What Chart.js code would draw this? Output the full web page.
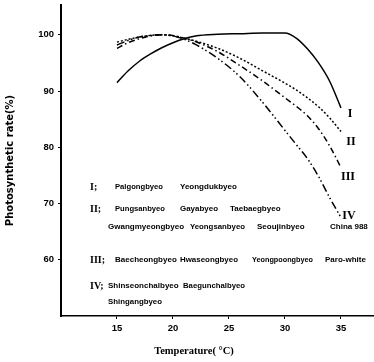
<!DOCTYPE html>
<html>
<head>
<meta charset="utf-8">
<script src="https://cdn.jsdelivr.net/npm/chart.js@4"></script>
<style>
  body { margin: 0; background: #fff; }
  canvas { display: block; }
</style>
</head>
<body>
<canvas id="chart" width="374" height="362"></canvas>
<script>
// temperature (°C) at which each curve was read
const temps = [15, 16, 17, 18, 19, 20, 21, 22, 24, 26, 28, 30, 31, 32, 33, 34, 35];
// photosynthetic rate (%) per variety group
const rateI   = [91.5, 93.6, 95.3, 96.6, 97.7, 98.6, 99.3, 99.8, 100.1, 100.2, 100.3, 100.3, 99.4, 97.5, 95.0, 91.7, 87.0];
const rateII  = [98.7, 99.2, 99.6, 99.9, 100.0, 99.8, 99.4, 98.9, 97.6, 95.8, 93.6, 91.4, 90.2, 88.8, 87.2, 85.2, 82.8];
const rateIII = [97.6, 98.6, 99.3, 99.8, 100.0, 99.9, 99.4, 98.8, 97.0, 94.5, 91.8, 88.8, 87.3, 85.6, 83.3, 80.2, 76.4];
const rateIV  = [98.2, 99.0, 99.6, 99.9, 100.0, 99.8, 99.2, 98.3, 95.8, 92.5, 88.0, 83.0, 80.5, 78.0, 74.8, 71.0, 67.5];

const xTicks = [15, 20, 25, 30, 35];
const yTicks = [60, 70, 80, 90, 100];

const xTitle = 'Temperature( °C)';
const yTitle = 'Photosynthetic rate(%)';

const groupLabels = ['I', 'II', 'III', 'IV'];
const groupVarieties = [
  ['Palgongbyeo', 'Yeongdukbyeo'],
  ['Pungsanbyeo', 'Gayabyeo', 'Taebaegbyeo', 'Gwangmyeongbyeo', 'Yeongsanbyeo', 'Seoujinbyeo', 'China 988'],
  ['Baecheongbyeo', 'Hwaseongbyeo', 'Yeongpoongbyeo', 'Paro-white'],
  ['Shinseonchalbyeo', 'Baegunchalbyeo', 'Shingangbyeo'],
];

const series = [rateI, rateII, rateIII, rateIV];
const dashes = [[], [2, 2], [6, 3, 1.5, 3], [8, 3, 1.5, 2.5, 1.5, 3]];

// where the group notes sit on the page (x, y, max width)
const numeralPos = [[90, 187], [90, 209], [90, 260], [90, 286]];
const wordPos = [
  [[115, 187, 48], [180, 187, 58]],
  [[115, 209, 50], [180, 209, 38], [230, 209, 58], [108, 227, 77], [190, 227, 55], [257, 227, 56], [330, 227, 38]],
  [[115, 260, 62], [180, 260, 58], [252, 260, 61], [325, 260, 47]],
  [[108, 286, 72], [183, 286, 62], [108, 302, 54]],
];
const endOffsets = [[9, 6], [10, 10], [7, 9], [8, -2]];

const notes = {
  id: 'notes',
  afterDatasetsDraw(chart) {
    const { ctx, scales: { x, y } } = chart;
    ctx.save();
    ctx.fillStyle = '#000';
    ctx.textBaseline = 'middle';

    // numerals at the end of each curve
    ctx.textAlign = 'center';
    ctx.font = 'bold 12px "Liberation Serif"';
    series.forEach((vals, i) => {
      const px = x.getPixelForValue(temps[temps.length - 1]) + endOffsets[i][0];
      const py = y.getPixelForValue(vals[vals.length - 1]) + endOffsets[i][1];
      ctx.fillText(groupLabels[i], px, py);
    });

    // x title sits a bit left of the axis centre in the original
    ctx.font = 'bold 10.5px "Liberation Serif"';
    ctx.fillText(xTitle, 194, 351);

    // group key inside the plot
    ctx.textAlign = 'left';
    groupLabels.forEach((g, i) => {
      ctx.font = 'bold 10px "Liberation Serif"';
      ctx.fillText(g + ';', numeralPos[i][0], numeralPos[i][1]);
      ctx.font = 'bold 8px "Liberation Sans"';
      groupVarieties[i].forEach((name, j) => {
        const [px, py, w] = wordPos[i][j];
        ctx.fillText(name, px, py, w);
      });
    });
    ctx.restore();
  }
};

const tickFont = { family: 'Liberation Sans', size: 9.5, weight: 'bold' };

new Chart(document.getElementById('chart'), {
  type: 'line',
  data: {
    datasets: series.map((vals, i) => ({
      label: groupLabels[i],
      data: temps.map((t, k) => ({ x: t, y: vals[k] })),
      borderColor: '#000',
      borderWidth: 1.5,
      borderDash: dashes[i],
      pointRadius: 0,
      fill: false,
      cubicInterpolationMode: 'monotone',
    })),
  },
  options: {
    responsive: false,
    animation: false,
    layout: { padding: { top: 5, right: 1, left: 0, bottom: 0 } },
    plugins: { legend: { display: false }, tooltip: { enabled: false } },
    scales: {
      x: {
        type: 'linear',
        min: 10,
        max: 37.86,
        afterBuildTicks: s => { s.ticks = xTicks.map(v => ({ value: v })); },
        afterFit: s => { s.height = 46; s.paddingLeft = 0; s.paddingRight = 0; },
        grid: { drawOnChartArea: false, drawTicks: true, tickLength: 3, color: '#000' },
        border: { color: '#000', width: 1.5 },
        ticks: { color: '#000', font: tickFont, padding: 4, maxRotation: 0 },
      },
      y: {
        min: 50,
        max: 105.3,
        afterBuildTicks: s => { s.ticks = yTicks.map(v => ({ value: v })); },
        afterFit: s => { s.width = 61; s.paddingTop = 0; s.paddingBottom = 0; },
        grid: { drawOnChartArea: false, drawTicks: true, tickLength: 3, color: '#000' },
        border: { color: '#000', width: 2 },
        ticks: { color: '#000', font: tickFont, padding: 4 },
        title: {
          display: true,
          text: yTitle,
          color: '#000',
          font: { family: 'DejaVu Sans', size: 10, weight: 'bold' },
          padding: { top: 4, bottom: 0 },
        },
      },
    },
  },
  plugins: [notes],
});
</script>
</body>
</html>
